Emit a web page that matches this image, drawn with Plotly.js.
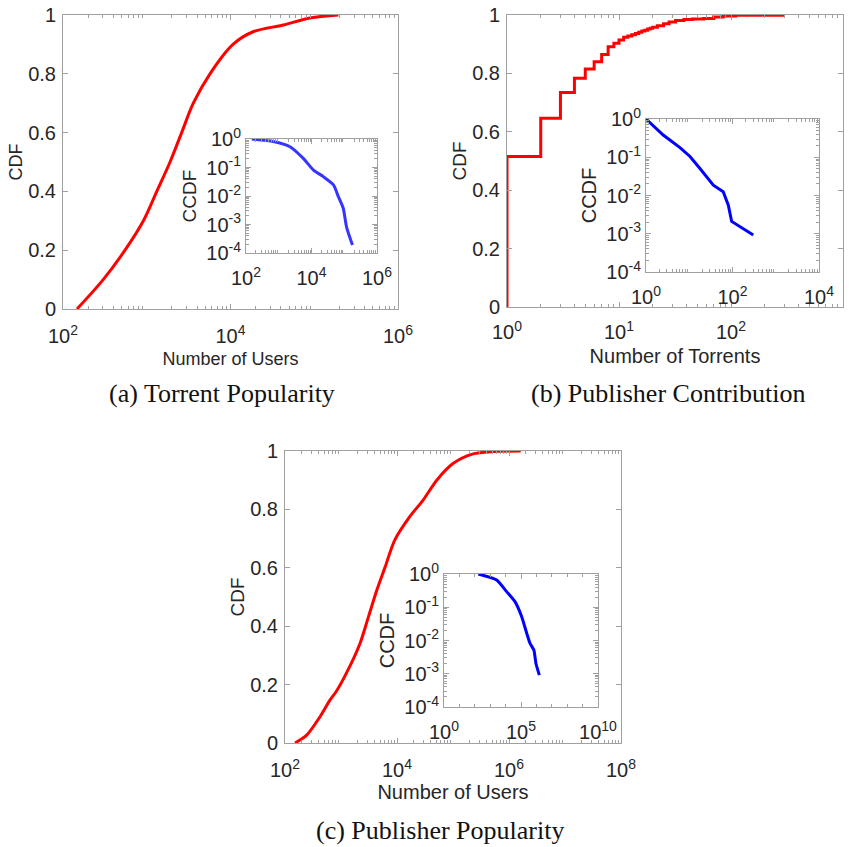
<!DOCTYPE html>
<html><head><meta charset="utf-8">
<script src="https://cdn.plot.ly/plotly-3.0.1.min.js"></script>
<style>html,body{margin:0;padding:0;background:#fff}</style>
</head><body><div id="chart" style="width:858px;height:847px"></div>
<script>
// (a) Torrent Popularity
const usersA = [147, 302, 550, 912, 1318, 1897, 2612, 3597, 5690, 10700, 18600, 42600, 89000, 194000];
const cdfA   = [0, 0.1, 0.2, 0.3, 0.4, 0.5, 0.6, 0.7, 0.8, 0.9, 0.943, 0.966, 0.99, 1.0];
const usersAin = [149, 676, 2190, 5620, 11500, 22900, 46800, 66100, 93300, 117000, 178000];
const ccdfAin  = [1, 0.813, 0.537, 0.209, 0.0813, 0.0479, 0.0245, 0.00955, 0.00372, 0.000832, 0.000191];
// (b) Publisher Contribution
const torrentsB = [1, 1, 2, 3, 4, 5, 6, 7, 8, 9, 10, 11, 12, 13, 14, 15, 16, 17, 18, 19, 20, 22, 25, 28, 32, 38, 45, 57, 70, 85, 110, 293];
const cdfB      = [0, 0.515, 0.646, 0.735, 0.783, 0.815, 0.840, 0.865, 0.891, 0.903, 0.914, 0.924, 0.928, 0.932, 0.937, 0.941, 0.945, 0.948, 0.952, 0.955, 0.958, 0.963, 0.970, 0.976, 0.981, 0.985, 0.986, 0.988, 0.993, 0.997, 0.999, 1.0];
const torrentsBin = [1, 2.5, 6.1, 10.4, 17.7, 25, 36, 61, 80, 95.6, 302];
const ccdfBin     = [1, 0.38, 0.178, 0.105, 0.051, 0.031, 0.0186, 0.0126, 0.0056, 0.0021, 0.00093];
// (c) Publisher Popularity
const usersC = [151, 244, 422, 634, 832, 1255, 2185, 3090, 4370, 6170, 9120, 16900, 29300, 51300, 100000, 229000, 525000, 1620000];
const cdfC   = [0, 0.027, 0.09, 0.147, 0.178, 0.24, 0.341, 0.432, 0.524, 0.604, 0.695, 0.775, 0.832, 0.90, 0.957, 0.99, 0.998, 1.0];
const usersCin = [170, 2630, 11700, 40700, 110000, 234000, 380000, 692000, 933000, 1550000];
const ccdfCin  = [1, 0.661, 0.295, 0.148, 0.0525, 0.0166, 0.0083, 0.00513, 0.00204, 0.000912];

const cdfTicks = [0, 0.2, 0.4, 0.6, 0.8, 1];
const cdfTickText = ['0', '0.2', '0.4', '0.6', '0.8', '1'];
const ccdfExps = [-4, -3, -2, -1, 0];

const W = 858, H = 847;
const FONT = 'Liberation Sans, Arial, sans-serif';
const SERIF = 'Liberation Serif, Times New Roman, serif';
const TXT = '#262626';
const LINE = '#a0a0a0';

function dx(a, b) { return [a / W, b / W]; }
function dy(top, bot) { return [1 - bot / H, 1 - top / H]; }
function pow10Label(e) { return '10<sup>' + e + '</sup>'; }
function minorLog(lo, hi) {
  const out = [];
  for (let k = lo; k < hi; k++) for (let m = 2; m <= 9; m++) out.push(m * Math.pow(10, k));
  return out;
}
function decadeMinor(lo, hi, skip) {
  const out = [];
  for (let k = lo; k <= hi; k++) if (!skip.includes(k)) out.push(Math.pow(10, k));
  return out;
}
function baseAxis(domain, anchor, fs) {
  return {
    domain: domain, anchor: anchor,
    ticks: 'inside', ticklen: 5, tickcolor: LINE, tickwidth: 1,
    showline: true, linecolor: LINE, linewidth: 1, mirror: 'ticks',
    showgrid: false, zeroline: false, fixedrange: true,
    tickfont: { family: FONT, size: fs, color: TXT }
  };
}
function logAxis(domain, lo, hi, exps, fs, anchor, minorVals, standoff) {
  const ax = baseAxis(domain, anchor, fs);
  Object.assign(ax, {
    type: 'log', range: [lo, hi],
    tickmode: 'array', tickvals: exps.map(e => Math.pow(10, e)), ticktext: exps.map(pow10Label),
    minor: { tickmode: 'array', tickvals: minorVals, ticks: 'inside', ticklen: 3, tickcolor: LINE, showgrid: false }
  });
  if (standoff) ax.ticklabelstandoff = standoff;
  return ax;
}
function withTitle(ax, text, size, standoff) {
  ax.title = { text: text, font: { family: FONT, size: size, color: TXT }, standoff: standoff };
  return ax;
}
function linAxis(domain, anchor, fs) {
  const ax = baseAxis(domain, anchor, fs);
  Object.assign(ax, { range: [0, 1], tickmode: 'array', tickvals: cdfTicks, ticktext: cdfTickText, ticklabelstandoff: 2 });
  return ax;
}
function ccdfAxis(domain, anchor, fs, tsize, standoff) {
  const ax = logAxis(domain, -4, 0, ccdfExps, fs, anchor, minorLog(-4, 0));
  return withTitle(ax, 'CCDF', tsize, standoff);
}

const data = [
  { x: usersA, y: cdfA, xaxis: 'x', yaxis: 'y', mode: 'lines', line: { color: '#ff0000', width: 3, shape: 'spline', smoothing: 0.9 } },
  { x: usersAin, y: ccdfAin, xaxis: 'x2', yaxis: 'y2', mode: 'lines', line: { color: '#3535ff', width: 3, shape: 'spline', smoothing: 0.6 } },
  { x: torrentsB, y: cdfB, xaxis: 'x3', yaxis: 'y3', mode: 'lines', line: { color: '#ff0000', width: 3, shape: 'hv' } },
  { x: torrentsBin, y: ccdfBin, xaxis: 'x4', yaxis: 'y4', mode: 'lines', line: { color: '#0000ff', width: 3 } },
  { x: usersC, y: cdfC, xaxis: 'x5', yaxis: 'y5', mode: 'lines', line: { color: '#ff0000', width: 3, shape: 'spline', smoothing: 0.8 } },
  { x: usersCin, y: ccdfCin, xaxis: 'x6', yaxis: 'y6', mode: 'lines', line: { color: '#0000ff', width: 3, shape: 'spline', smoothing: 0.5 } }
];

const captionFont = { family: SERIF, size: 26, color: '#111' };
const layout = {
  width: W, height: H, margin: { l: 0, r: 0, t: 0, b: 0 },
  paper_bgcolor: '#fff', plot_bgcolor: 'rgba(0,0,0,0)', showlegend: false,
  // (a)
  xaxis: withTitle(logAxis(dx(63, 398), 2, 6, [2, 4, 6], 20, 'y', minorLog(2, 6), 9), 'Number of Users', 18, 6),
  yaxis: withTitle(linAxis(dy(15, 309), 'x', 20), 'CDF', 18, 0),
  xaxis2: logAxis(dx(246, 377), 2, 6, [2, 4, 6], 20, 'y2', minorLog(2, 6), 7),
  yaxis2: ccdfAxis(dy(139, 253), 'x2', 20, 19, 4),
  // (b)
  xaxis3: withTitle(logAxis(dx(507, 843), 0, 3, [0, 1, 2, 3], 20, 'y3', minorLog(0, 3), 7), 'Number of Torrents', 20, 6),
  yaxis3: withTitle(linAxis(dy(15, 307), 'x3', 20), 'CDF', 19, 0),
  xaxis4: logAxis(dx(646, 819), 0, 4, [0, 2, 4], 20, 'y4', minorLog(0, 4), 7),
  yaxis4: ccdfAxis(dy(119, 272), 'x4', 20, 20, 4),
  // (c)
  xaxis5: withTitle(logAxis(dx(285, 621), 2, 8, [2, 4, 6, 8], 20, 'y5', minorLog(2, 8), 9), 'Number of Users', 20, 2),
  yaxis5: withTitle(linAxis(dy(451, 743), 'x5', 20), 'CDF', 19, 0),
  xaxis6: logAxis(dx(444, 598), 0, 10, [0, 5, 10], 20, 'y6', decadeMinor(0, 10, [0, 5, 10]), 7),
  yaxis6: ccdfAxis(dy(574, 707), 'x6', 20, 20, 4),
  annotations: [
    { text: '(a) Torrent Popularity', xref: 'paper', yref: 'paper', x: 222 / W, y: 1 - 393 / H, xanchor: 'center', yanchor: 'middle', showarrow: false, font: captionFont },
    { text: '(b) Publisher Contribution', xref: 'paper', yref: 'paper', x: 668 / W, y: 1 - 393 / H, xanchor: 'center', yanchor: 'middle', showarrow: false, font: captionFont },
    { text: '(c) Publisher Popularity', xref: 'paper', yref: 'paper', x: 440 / W, y: 1 - 830 / H, xanchor: 'center', yanchor: 'middle', showarrow: false, font: captionFont }
  ]
};

Plotly.newPlot('chart', data, layout, { staticPlot: true, displayModeBar: false });
</script>
</body></html>
